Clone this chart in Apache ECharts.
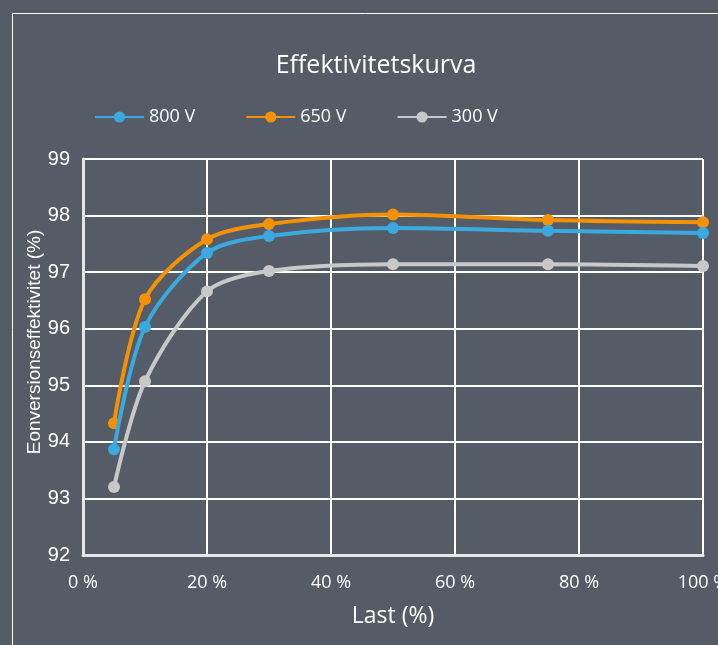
<!DOCTYPE html>
<html>
<head>
<meta charset="utf-8">
<script src="https://cdn.jsdelivr.net/npm/echarts@6/dist/echarts.min.js"></script>
<style>
  html, body { margin: 0; padding: 0; background: #555c67; }
  #chart { width: 718px; height: 645px; }
</style>
</head>
<body>
<div id="chart"></div>
<script>
// last (%) on x, efficiency (%) on y
const loadPct = [5, 10, 20, 30, 50, 75, 100]
const eff800 = [93.87, 96.03, 97.34, 97.64, 97.78, 97.73, 97.69]
const eff650 = [94.33, 96.52, 97.58, 97.85, 98.02, 97.92, 97.88]
const eff300 = [93.2, 95.07, 96.66, 97.02, 97.14, 97.14, 97.11]
const seriesNames = ['800 V', '650 V', '300 V']
const xTicks = [0, 20, 40, 60, 80, 100]
const yName = 'Eonversionseffektivitet (%)'

const colors = ['#3aa9e0', '#f39200', '#c8c8c8']
const font = '"Open Sans", "Noto Sans", sans-serif'
const sansFont = '"Liberation Sans", Arial, sans-serif'

function pairs(ys) {
  return loadPct.map((x, i) => [x, ys[i]])
}

const chart = echarts.init(document.getElementById('chart'))
chart.setOption({
  backgroundColor: '#555c67',
  color: colors,
  animation: false,
  title: {
    text: 'Effektivitetskurva',
    left: 371,
    textAlign: 'center',
    top: 48,
    textStyle: { color: '#ffffff', fontSize: 25, fontWeight: 'normal', fontFamily: font }
  },
  legend: {
    data: seriesNames,
    left: 89,
    top: 103,
    itemWidth: 49,
    itemHeight: 14,
    itemGap: 50,
    textStyle: { color: '#ffffff', fontSize: 18, fontFamily: font }
  },
  graphic: [{
    type: 'rect',
    shape: { x: 12.5, y: 13.5, width: 720, height: 650 },
    style: { fill: 'none', stroke: '#ffffff', lineWidth: 1 },
    silent: true
  }, {
    // y axis title, placed to match the reference
    type: 'text',
    x: 35,
    y: 342,
    rotation: Math.PI / 2,
    style: {
      text: yName,
      fill: '#ffffff',
      fontSize: 19,
      fontFamily: sansFont,
      align: 'center',
      verticalAlign: 'middle'
    },
    silent: true
  }],
  grid: { left: 83, right: 15, top: 159, bottom: 90, outerBoundsMode: 'none' },
  xAxis: {
    type: 'value',
    min: xTicks[0],
    max: xTicks[xTicks.length - 1],
    interval: 20,
    name: 'Last (%)',
    nameLocation: 'middle',
    nameGap: 50,
    nameTextStyle: { color: '#ffffff', fontSize: 23, fontFamily: font },
    axisLine: { show: true, lineStyle: { color: '#e6e6e6', width: 3 } },
    axisTick: { show: false },
    axisLabel: { color: '#ffffff', fontSize: 18, fontFamily: font, margin: 19, formatter: '{value} %' },
    splitLine: { show: true, lineStyle: { color: '#ffffff', width: 2 } }
  },
  yAxis: {
    type: 'value',
    min: 92,
    max: 99,
    interval: 1,
    axisLine: { show: true, lineStyle: { color: '#e6e6e6', width: 3 } },
    axisTick: { show: false },
    axisLabel: { color: '#ffffff', fontSize: 20, fontFamily: sansFont, margin: 13 },
    splitLine: { show: true, lineStyle: { color: '#ffffff', width: 2 } }
  },
  series: [eff800, eff650, eff300].map((ys, i) => ({
    name: seriesNames[i],
    type: 'line',
    smooth: 0.3,
    data: pairs(ys),
    symbol: 'circle',
    symbolSize: 12,
    lineStyle: { width: 4 },
    z: 3 - i
  }))
})
</script>
</body>
</html>
